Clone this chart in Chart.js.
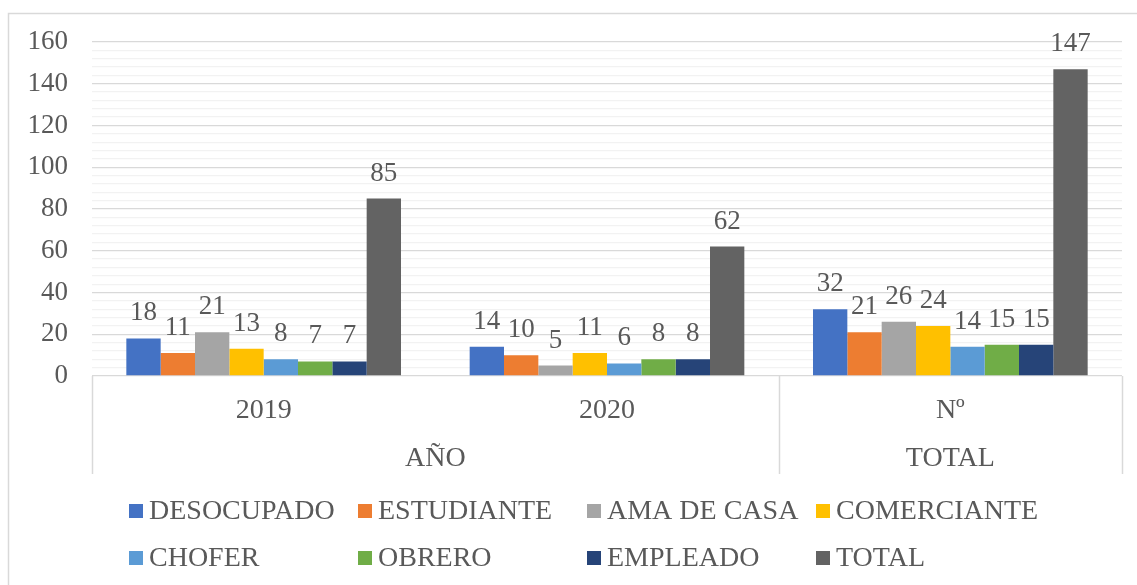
<!DOCTYPE html>
<html>
<head>
<meta charset="utf-8">
<script src="https://cdn.jsdelivr.net/npm/chart.js@4.4.1/dist/chart.umd.min.js"></script>
<style>
  html,body{margin:0;padding:0;background:#fff;}
  #wrap{width:1137px;height:585px;position:relative;}
</style>
</head>
<body>
<div id="wrap"><canvas id="ocupChart"></canvas></div>
<script>
// ============================================================
//  DATA
// ============================================================
const categories=['2019','2020','Nº'];
const groupLabels=['AÑO','TOTAL'];      // AÑO spans 2019+2020, TOTAL spans Nº
const groupSpans=[2,1];
const seriesNames=['DESOCUPADO','ESTUDIANTE','AMA DE CASA','COMERCIANTE','CHOFER','OBRERO','EMPLEADO','TOTAL'];
const desocupado=[18,14,32];
const estudiante=[11,10,21];
const amaDeCasa=[21,5,26];
const comerciante=[13,11,24];
const chofer=[8,6,14];
const obrero=[7,8,15];
const empleado=[7,8,15];
const total=[85,62,147];
const yTicks=[0,20,40,60,80,100,120,140,160];

const seriesValues=[desocupado,estudiante,amaDeCasa,comerciante,chofer,obrero,empleado,total];
const seriesColors=['#4472C4','#ED7D31','#A5A5A5','#FFC000','#5B9BD5','#70AD47','#264478','#636363'];

const FONT="'Liberation Serif','Times New Roman',serif";
const TXT='#595959';

// ============================================================
//  PLUGINS
// ============================================================
const frame={
  id:'frame',
  beforeDraw(chart){
    const c=chart.ctx;
    c.save();
    c.strokeStyle='#D9D9D9';c.lineWidth=1.5;
    c.strokeRect(8.5,13.5,1400,800);
    c.restore();
  }
};

const valueLabels={
  id:'valueLabels',
  afterDatasetsDraw(chart){
    const c=chart.ctx;
    c.save();
    c.font='27px '+FONT;c.fillStyle=TXT;c.textAlign='center';c.textBaseline='alphabetic';
    chart.data.datasets.forEach((ds,i)=>{
      chart.getDatasetMeta(i).data.forEach((bar,j)=>{
        c.fillText(String(ds.data[j]),bar.x,bar.y-18);
      });
    });
    c.restore();
  }
};

const multiLevelAxis={
  id:'multiLevelAxis',
  afterDraw(chart){
    const c=chart.ctx,x=chart.scales.x,a=chart.chartArea;
    const bottom=a.bottom+98;
    const step=x.getPixelForValue(1)-x.getPixelForValue(0);
    // boundaries between groups
    const edges=[a.left];
    let idx=0;
    groupSpans.forEach(s=>{idx+=s;edges.push(x.getPixelForValue(idx-1)+step/2);});
    c.save();
    c.strokeStyle='#D9D9D9';c.lineWidth=1.5;
    edges.forEach(px=>{
      c.beginPath();c.moveTo(Math.round(px)+0.5,a.bottom);c.lineTo(Math.round(px)+0.5,bottom);c.stroke();
    });
    c.font='28px '+FONT;c.fillStyle=TXT;c.textAlign='center';c.textBaseline='middle';
    groupLabels.forEach((g,k)=>{
      c.fillText(g,(edges[k]+edges[k+1])/2,a.bottom+83);
    });
    c.restore();
  }
};

const gridLegend={
  id:'gridLegend',
  afterDraw(chart){
    const c=chart.ctx;
    c.save();
    c.font='28px '+FONT;c.textBaseline='middle';c.textAlign='left';
    chart.data.datasets.forEach((ds,i)=>{
      const col=i%4,row=Math.floor(i/4);
      const x0=129+229*col,yc=511+47*row;
      c.fillStyle=ds.backgroundColor;
      c.fillRect(x0,yc-7,14,14);
      c.fillStyle=TXT;
      c.fillText(ds.label,x0+20,yc+1);
    });
    c.restore();
  }
};

// ============================================================
//  CHART
// ============================================================
const ctx=document.getElementById('ocupChart').getContext('2d');
new Chart(ctx,{
  type:'bar',
  data:{
    labels:categories,
    datasets:seriesNames.map((n,i)=>({
      label:n,data:seriesValues[i],
      backgroundColor:seriesColors[i],borderWidth:0,
      categoryPercentage:0.8,barPercentage:1.0,
    }))
  },
  options:{
    responsive:true,
    maintainAspectRatio:false,
    animation:false,
    layout:{padding:{top:42,right:15,bottom:111,left:0}},
    plugins:{legend:{display:false},tooltip:{enabled:false}},
    scales:{
      x:{
        grid:{display:false},
        border:{display:false},
        ticks:{color:TXT,font:{family:FONT,size:28},padding:10,maxRotation:0},
        afterFit:s=>{s.height=98;}
      },
      y:{
        min:0,max:160,
        afterBuildTicks:s=>{
          const t=[];
          for(let v=yTicks[0];v<=yTicks[yTicks.length-1];v+=4) t.push({value:v});
          s.ticks=t;
        },
        ticks:{
          autoSkip:false,padding:24,color:TXT,font:{family:FONT,size:27},
          callback:v=>yTicks.includes(v)?v:''
        },
        grid:{
          drawTicks:false,lineWidth:1.3,
          color:c=>yTicks.includes(c.tick.value)?'#D9D9D9':'#F2F2F2'
        },
        border:{display:false},
        afterFit:s=>{s.width=92;}
      }
    }
  },
  plugins:[frame,valueLabels,multiLevelAxis,gridLegend]
});
</script>
</body>
</html>
